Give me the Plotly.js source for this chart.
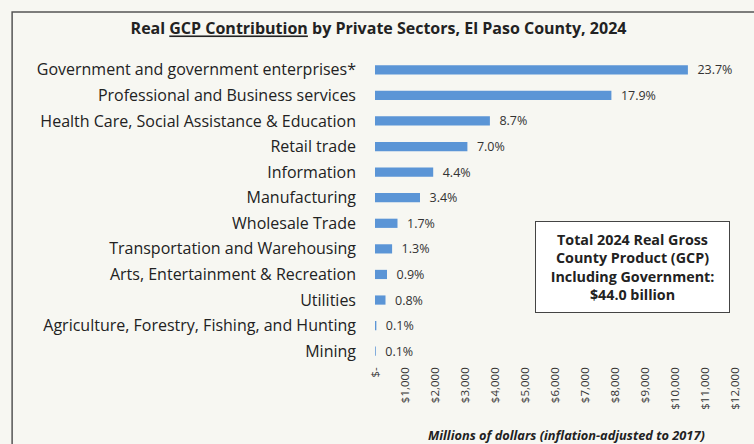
<!DOCTYPE html>
<html>
<head>
<meta charset="utf-8">
<script src="https://cdn.plot.ly/plotly-3.0.1.min.js"></script>
<style>
  html, body { margin: 0; padding: 0; background: #f7f7f2; }
  #chart { width: 754px; height: 444px; }
</style>
</head>
<body>
<div id="chart"></div>
<script>
// Data (top-to-bottom order as shown)
const sectors = [
  "Government and government enterprises*",
  "Professional and Business services",
  "Health Care, Social Assistance & Education",
  "Retail trade",
  "Information",
  "Manufacturing",
  "Wholesale Trade",
  "Transportation and Warehousing",
  "Arts, Entertainment & Recreation",
  "Utilities",
  "Agriculture, Forestry, Fishing, and Hunting",
  "Mining"
];
const valuesMillions = [10430, 7880, 3830, 3080, 1940, 1500, 750, 570, 400, 350, 45, 25];
const shareLabels = ["23.7%", "17.9%", "8.7%", "7.0%", "4.4%", "3.4%", "1.7%", "1.3%", "0.9%", "0.8%", "0.1%", "0.1%"];
const tickValues = [0, 1000, 2000, 3000, 4000, 5000, 6000, 7000, 8000, 9000, 10000, 11000, 12000];
const tickLabels = ["$-", "$1,000", "$2,000", "$3,000", "$4,000", "$5,000", "$6,000", "$7,000", "$8,000", "$9,000", "$10,000", "$11,000", "$12,000"];

const FONT = "'Open Sans', Lato, sans-serif";

const trace = {
  type: "bar",
  orientation: "h",
  x: valuesMillions,
  y: sectors,
  text: shareLabels,
  texttemplate: "  %{text}",
  textposition: "outside",
  constraintext: "none",
  cliponaxis: false,
  textfont: { family: FONT, size: 12.5, color: "#333" },
  marker: { color: "#5b95d6" },
  width: 0.36,
  hoverinfo: "x+y"
};

const layout = {
  width: 754,
  height: 444,
  paper_bgcolor: "#f7f7f2",
  plot_bgcolor: "rgba(0,0,0,0)",
  margin: { l: 375, r: 19, t: 57, b: 80 },
  showlegend: false,
  font: { family: FONT, color: "#222" },
  title: {
    text: "Real <u>GCP Contribution</u> by Private Sectors, El Paso County, 2024",
    font: { family: FONT, size: 16, color: "#222", weight: "bold" },
    x: 0.502, xanchor: "center",
    y: 0.935, yanchor: "middle"
  },
  xaxis: {
    range: [0, 12000],
    tickvals: tickValues,
    ticktext: tickLabels,
    tickangle: -90,
    tickfont: { family: FONT, size: 11.5, color: "#333" },
    showgrid: false,
    zeroline: false,
    showline: false,
    ticks: ""
  },
  yaxis: {
    categoryorder: "array",
    categoryarray: sectors.slice().reverse(),
    tickfont: { family: FONT, size: 16, color: "#222" },
    showgrid: false,
    zeroline: false,
    showline: false,
    ticks: "",
    ticklabelstandoff: 18
  },
  shapes: [{
    type: "rect", xref: "paper", yref: "paper",
    x0: -1.008, x1: 1.1, y0: -0.32, y1: 1.1466,
    line: { color: "#555", width: 1.5 },
    fillcolor: "rgba(0,0,0,0)"
  }],
  annotations: [{
    xref: "paper", yref: "paper",
    x: 0.714, y: 0.316, xanchor: "center", yanchor: "middle",
    text: "<b>Total 2024 Real Gross<br>County Product (GCP)<br>Including Government:<br>$44.0 billion</b>",
    showarrow: false,
    align: "center",
    font: { family: FONT, size: 14.3, color: "#222" },
    bgcolor: "#ffffff",
    bordercolor: "#444",
    borderwidth: 1,
    borderpad: 4,
    width: 185,
    height: 82
  }, {
    xref: "paper", yref: "paper",
    x: 0.533, y: -0.231, xanchor: "center", yanchor: "middle",
    text: "<b><i>Millions of dollars (inflation-adjusted to 2017)</i></b>",
    showarrow: false,
    font: { family: FONT, size: 12.8, color: "#222" }
  }]
};

Plotly.newPlot("chart", [trace], layout, { displayModeBar: false, staticPlot: true });
</script>
</body>
</html>
